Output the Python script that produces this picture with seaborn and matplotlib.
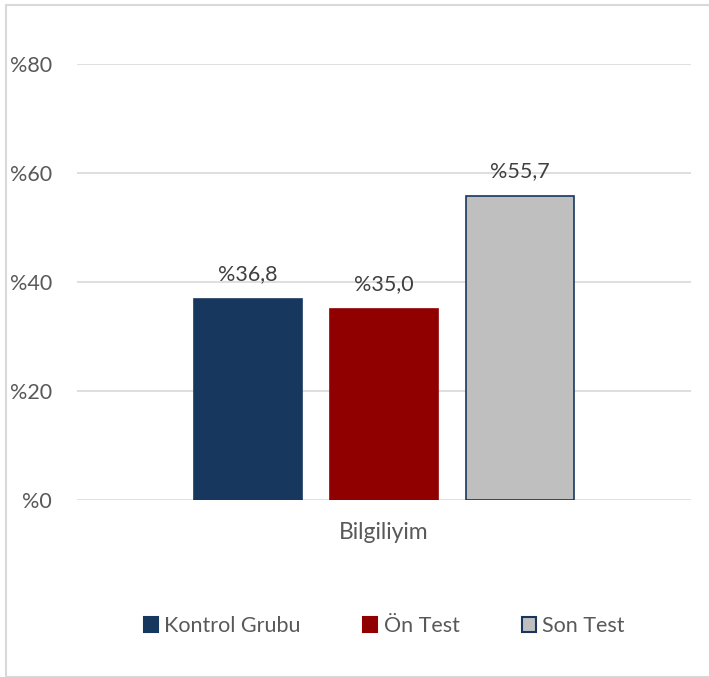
import matplotlib
matplotlib.use("Agg")
import matplotlib.pyplot as plt
import seaborn as sns
import pandas as pd
from matplotlib.patches import Patch, Rectangle

categories = ["Bilgiliyim"]
series = ["Kontrol Grubu", "Ön Test", "Son Test"]
values = [36.8, 35.0, 55.7]
value_labels = ["%36,8", "%35,0", "%55,7"]
yticks = [0, 20, 40, 60, 80]
ytick_labels = ["%0", "%20", "%40", "%60", "%80"]

colors = ["#17375E", "#910000", "#BFBFBF"]
edges = ["#17375E", "#910000", "#17375E"]

sns.set_theme(style="white")
plt.rcParams['font.family'] = ['Lato', 'DejaVu Sans']

df = pd.DataFrame({"cat": categories * len(series), "series": series, "val": values})

fig = plt.figure(figsize=(7.09, 6.77), dpi=100)
ax = fig.add_axes([0.1086, 0.2614, 0.9746 - 0.1086, 0.9055 - 0.2614])

sns.barplot(data=df, x="cat", y="val", hue="series", hue_order=series,
            palette=colors, width=0.6645, gap=0.206, ax=ax, legend=False,
            saturation=1)

for patch, ec in zip(ax.patches, edges):
    patch.set_edgecolor(ec)
    patch.set_linewidth(1.2)

ax.set_ylim(0, 80)
ax.set_xlim(-0.5, 0.5)
ax.set_yticks(yticks)
ax.set_yticklabels(ytick_labels, color="#595959", fontsize=15.5)
ax.tick_params(axis="y", length=0, pad=18)
ax.tick_params(axis="x", length=0, pad=16, labelsize=16.5, labelcolor="#595959")
ax.set_xlabel("")
ax.set_ylabel("")
ax.yaxis.grid(True, color="#D9D9D9", linewidth=1.2)
ax.set_axisbelow(True)
for s in ax.spines.values():
    s.set_visible(False)

for patch, lab in zip(ax.patches, value_labels):
    ax.annotate(lab, (patch.get_x() + patch.get_width() / 2, patch.get_height()),
                xytext=(0, 11), textcoords="offset points", ha="center", va="bottom",
                fontsize=15.5, color="#404040")

handles = [Patch(facecolor=c, edgecolor=e, linewidth=1.5) for c, e in zip(colors, edges)]
leg = fig.legend(handles, series, loc="center", bbox_to_anchor=(0.542, 0.075), ncol=3,
                 frameon=False, fontsize=15.5, handlelength=0.65, handleheight=0.65,
                 handletextpad=0.3, columnspacing=2.9)
for t in leg.get_texts():
    t.set_color("#595959")

fig.patches.append(Rectangle((6 / 709, 0), 1, 1 - 5 / 677, transform=fig.transFigure,
                             fill=False, edgecolor="#D9D9D9", linewidth=1.5))

fig.savefig("out.png", dpi=100)
